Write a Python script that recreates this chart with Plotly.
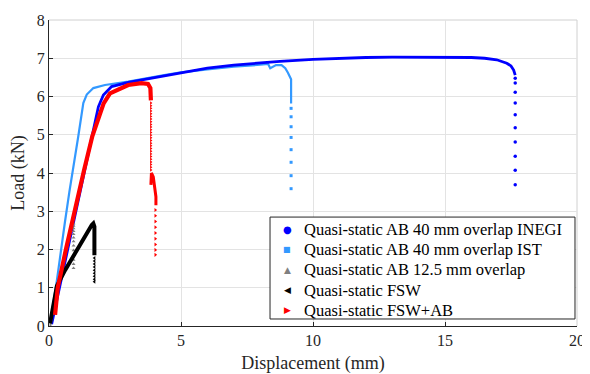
import plotly.graph_objects as go

# ---------------- data ----------------
# Quasi-static AB 40 mm overlap INEGI
inegi_x = [0.1, 0.5, 1.11, 1.62, 1.87, 2.06, 2.37, 3.0, 3.83, 5.0, 6.0, 7.0, 8.0, 8.75, 10.0, 11.0, 12.0, 13.0, 14.0, 15.0, 16.0, 16.5, 16.96, 17.34, 17.5, 17.6, 17.66]
inegi_y = [0.05, 1.35, 3.29, 4.96, 5.73, 6.04, 6.26, 6.37, 6.47, 6.63, 6.74, 6.82, 6.88, 6.92, 6.97, 7.0, 7.02, 7.03, 7.03, 7.03, 7.02, 7.0, 6.96, 6.87, 6.8, 6.69, 6.56]
inegi_drop_x = [17.66] * 10
inegi_drop_y = [6.48, 6.35, 6.11, 5.83, 5.52, 5.18, 4.81, 4.44, 4.07, 3.69]

# Quasi-static AB 40 mm overlap IST
ist_x = [0.05, 0.3, 0.6, 0.77, 1.11, 1.3, 1.43, 1.68, 2.12, 3.0, 4.37, 5.0, 6.0, 7.0, 8.0, 8.3, 8.38, 8.45, 8.6, 8.81, 8.95, 9.05, 9.13, 9.17, 9.17]
ist_y = [0.1, 1.2, 2.7, 3.5, 4.96, 5.83, 6.05, 6.22, 6.3, 6.39, 6.56, 6.63, 6.71, 6.78, 6.83, 6.85, 6.74, 6.77, 6.82, 6.82, 6.74, 6.62, 6.52, 6.45, 5.82]
ist_drop_x = [9.17] * 8
ist_drop_y = [5.69, 5.47, 5.21, 4.93, 4.61, 4.28, 3.93, 3.59]

# Quasi-static AB 12.5 mm overlap
ab125_x = [0.05, 0.3, 0.6, 0.9]
ab125_y = [0.0, 0.9, 1.85, 2.7]
ab125_drop_x = [0.93] * 13
ab125_drop_y = [2.68, 2.62, 2.55, 2.48, 2.4, 2.31, 2.21, 2.1, 1.98, 1.85, 1.73, 1.62, 1.51]

# Quasi-static FSW
fsw_x = [0.04, 0.1, 0.2, 0.3, 0.61, 0.9, 1.11, 1.3, 1.49, 1.62, 1.68, 1.72, 1.72]
fsw_y = [0.07, 0.3, 0.75, 1.05, 1.46, 1.8, 2.07, 2.3, 2.51, 2.64, 2.68, 2.6, 1.85]
fsw_drop_x = [1.72] * 9
fsw_drop_y = [1.78, 1.7, 1.62, 1.54, 1.46, 1.38, 1.3, 1.22, 1.16]

# Quasi-static FSW+AB
fswab_x = [0.23, 0.33, 0.64, 0.96, 1.15, 1.33, 1.64, 2.07, 2.31, 3.0, 3.5, 3.75, 3.84, 3.86, 3.86]
fswab_y = [0.29, 1.0, 2.0, 3.0, 3.56, 4.08, 4.96, 5.82, 6.08, 6.3, 6.35, 6.33, 6.22, 6.05, 5.9]
fswab_mid_x = [3.86] * 26
fswab_mid_y = [5.83, 5.76, 5.69, 5.62, 5.55, 5.48, 5.41, 5.34, 5.27, 5.20, 5.13, 5.06, 4.99,
               4.92, 4.85, 4.78, 4.71, 4.64, 4.57, 4.50, 4.43, 4.36, 4.29, 4.22, 4.15, 4.08]
fswab_tail_x = [3.86, 3.86, 3.87, 3.88, 3.95, 4.01, 4.05, 4.05]
fswab_tail_y = [3.69, 3.85, 3.99, 4.0, 3.9, 3.65, 3.38, 3.16]
fswab_drop_x = [4.03] * 9
fswab_drop_y = [3.03, 2.88, 2.73, 2.58, 2.43, 2.28, 2.13, 1.99, 1.86]

names = ["Quasi-static AB 40 mm overlap INEGI", "Quasi-static AB 40 mm overlap IST",
         "Quasi-static AB 12.5 mm overlap", "Quasi-static FSW", "Quasi-static FSW+AB"]
colors = ["#0000FF", "#3399FF", "#808080", "#000000", "#FF0000"]
legend_glyphs = ["\u25CF", "\u25A0", "\u25B2", "\u25C0", "\u25B6"]
glyph_sizes = [10, 8, 9, 9, 9]

FONT = "Liberation Serif"
fig = go.Figure()

def line(x, y, c, w):
    fig.add_trace(go.Scatter(x=x, y=y, mode="lines", line=dict(color=c, width=w),
                             showlegend=False, hoverinfo="skip"))

def dots(x, y, c, s, sym):
    fig.add_trace(go.Scatter(x=x, y=y, mode="markers",
                             marker=dict(color=c, size=s, symbol=sym, line=dict(width=0)),
                             showlegend=False, hoverinfo="skip"))

# draw order
line(ist_x, ist_y, colors[1], 2.2)
dots(ist_drop_x, ist_drop_y, colors[1], 3, "square")
line(inegi_x, inegi_y, colors[0], 2.8)
dots(inegi_drop_x, inegi_drop_y, colors[0], 3.5, "circle")
line(ab125_x, ab125_y, colors[2], 2)
dots(ab125_drop_x, ab125_drop_y, colors[2], 3.5, "triangle-up")
line(fsw_x, fsw_y, colors[3], 4)
dots(fsw_drop_x, fsw_drop_y, colors[3], 3.5, "triangle-left")
line(fswab_x, fswab_y, colors[4], 4.2)
dots(fswab_mid_x, fswab_mid_y, colors[4], 3, "triangle-right")
line(fswab_tail_x, fswab_tail_y, colors[4], 3)
dots(fswab_drop_x, fswab_drop_y, colors[4], 3.5, "triangle-right")

# ---- legend drawn as box + text (paper coordinates) ----
leg_x0, leg_x1, leg_y0, leg_y1 = 0.4186, 0.9962, 0.0229, 0.356
row_y = [0.3154, 0.2493, 0.1833, 0.1173, 0.0513]
annotations = []
for n, c, g, gs, ry in zip(names, colors, legend_glyphs, glyph_sizes, row_y):
    annotations.append(dict(xref="paper", yref="paper", x=0.4508, y=ry, text=g, showarrow=False,
                            xanchor="center", yanchor="middle",
                            font=dict(family="DejaVu Sans", size=gs, color=c)))
    annotations.append(dict(xref="paper", yref="paper", x=0.4792, y=ry, text=n, showarrow=False,
                            xanchor="left", yanchor="middle",
                            font=dict(family=FONT, size=16.5, color="#000000")))

axis_common = dict(
    showgrid=True, gridcolor="#e3e3e3", gridwidth=1,
    showline=True, linecolor="#262626", linewidth=1,
    ticks="inside", ticklen=4, tickcolor="#262626",
    tickfont=dict(family=FONT, size=16, color="#262626"),
    zeroline=False, automargin=False,
)

# The page body has an 8px default margin, so the figure is sized to fit the 590x374 window.
fig.update_layout(
    width=582, height=366,
    margin=dict(l=41, r=13, t=12, b=48),
    paper_bgcolor="white", plot_bgcolor="white",
    font=dict(family=FONT, color="#262626"),
    xaxis=dict(range=[0, 20], dtick=5, tick0=0,
               title=dict(text="Displacement (mm)", font=dict(family=FONT, size=18, color="#262626"), standoff=8),
               **axis_common),
    yaxis=dict(range=[0, 8], dtick=1, tick0=0,
               title=dict(text="Load (kN)", font=dict(family=FONT, size=18, color="#262626"), standoff=10),
               **axis_common),
    showlegend=False,
    annotations=annotations,
    shapes=[dict(type="line", xref="paper", yref="paper", x0=0, x1=1, y0=1, y1=1,
                 line=dict(color="#d0d0d0", width=1), layer="below"),
            dict(type="line", xref="paper", yref="paper", x0=1, x1=1, y0=0, y1=1,
                 line=dict(color="#d0d0d0", width=1), layer="below"),
            dict(type="rect", xref="paper", yref="paper", x0=leg_x0, x1=leg_x1, y0=leg_y0, y1=leg_y1,
                 line=dict(color="#262626", width=1), fillcolor="white", layer="above")],
)

fig.write_html("out.html")
